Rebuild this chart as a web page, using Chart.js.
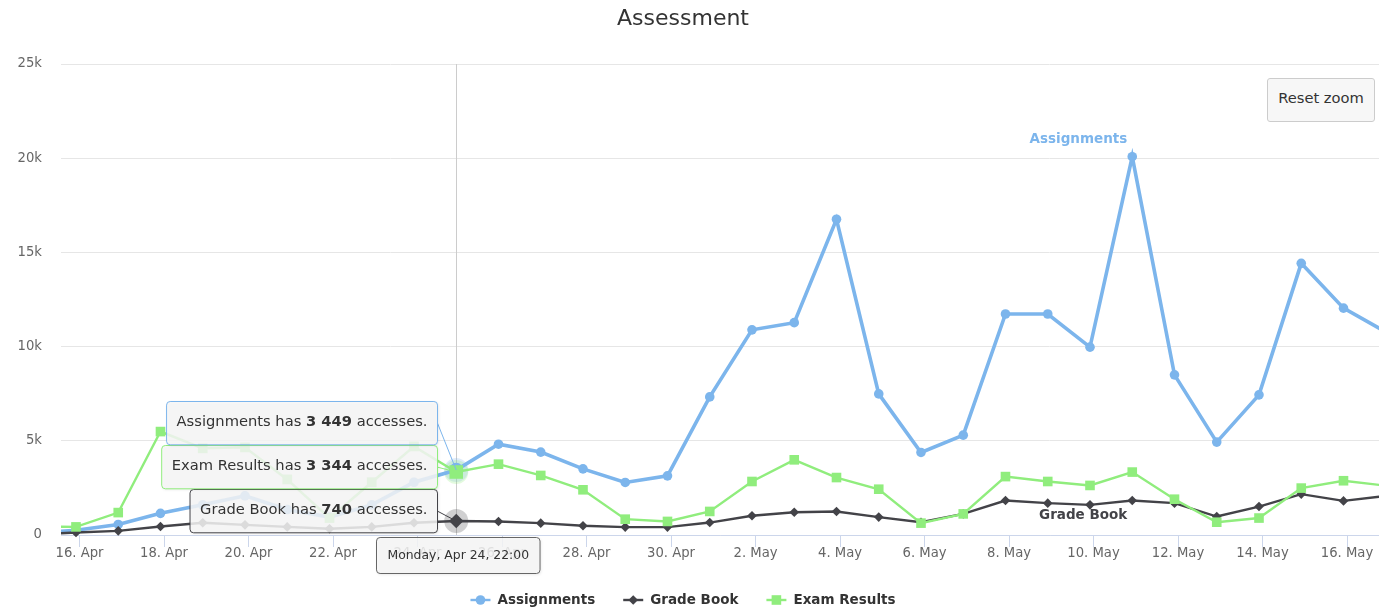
<!DOCTYPE html>
<html>
<head>
<meta charset="utf-8">
<title>Assessment</title>
<script src="https://cdn.jsdelivr.net/npm/chart.js@4.4.1/dist/chart.umd.min.js"></script>
<style>
  html, body { margin: 0; padding: 0; background: #fff; }
  #wrap { position: relative; width: 1379px; height: 611px; overflow: hidden; }
  #reset {
    position: absolute; left: 1267px; top: 78px; width: 108px; height: 44px;
    box-sizing: border-box; border: 1px solid #cccccc; border-radius: 3px;
    background: #f7f7f7; color: #333333; padding-bottom: 6px;
    font: 14.7px "DejaVu Sans", sans-serif;
    display: flex; align-items: center; justify-content: center;
  }
</style>
</head>
<body>
<div id="wrap">
  <canvas id="chart" width="1379" height="611"></canvas>
  <div id="reset">Reset zoom</div>
</div>
<script>
// one point per day, recorded at 22:00
const days = ['Apr 14', 'Apr 15', 'Apr 16', 'Apr 17', 'Apr 18', 'Apr 19', 'Apr 20', 'Apr 21', 'Apr 22', 'Apr 23',
  'Apr 24', 'Apr 25', 'Apr 26', 'Apr 27', 'Apr 28', 'Apr 29', 'Apr 30', 'May 1', 'May 2', 'May 3', 'May 4',
  'May 5', 'May 6', 'May 7', 'May 8', 'May 9', 'May 10', 'May 11', 'May 12', 'May 13', 'May 14', 'May 15', 'May 16']
const assignments = [100, 250, 560, 1150, 1600, 2080, 1350, 950, 1600, 2800, 3449, 4820, 4400, 3510, 2790, 3140,
  7330, 10890, 11270, 16760, 7490, 4380, 5300, 11730, 11730, 9970, 20080, 8500, 4930, 7440, 14420, 12040, 10780]
const gradeBook = [30, 130, 220, 450, 650, 540, 430, 330, 430, 650, 740, 720, 630, 490, 420, 420,
  660, 1020, 1210, 1250, 950, 680, 1120, 1830, 1690, 1600, 1830, 1690, 980, 1510, 2170, 1810, 2070]
const examResults = [450, 430, 1190, 5490, 4600, 4650, 2950, 900, 2800, 4700, 3344, 3760, 3160, 2400, 840, 720,
  1250, 2840, 3990, 3050, 2430, 630, 1120, 3100, 2840, 2630, 3340, 1900, 680, 900, 2490, 2880, 2620]
const tickLabels = ['16. Apr', '18. Apr', '20. Apr', '22. Apr', '24. Apr', '26. Apr', '28. Apr', '30. Apr',
  '2. May', '4. May', '6. May', '8. May', '10. May', '12. May', '14. May', '16. May']
const yTicks = ['0', '5k', '10k', '15k', '20k', '25k']

const hoverDay = 'Apr 24'
const hoverHeader = 'Monday, Apr 24, 22:00'

const FONT = '"DejaVu Sans", sans-serif'
const colors = { blue: '#7cb5ec', dark: '#434348', green: '#90ed7d' }

const hoverIndex = days.indexOf(hoverDay)
const firstTick = days.indexOf('Apr 16')
const toPoints = values => values.map((v, i) => ({ x: i + 22 / 24, y: v }))

function rgba(hex, a) {
  const n = parseInt(hex.slice(1), 16)
  return `rgba(${n >> 16}, ${(n >> 8) & 255}, ${n & 255}, ${a})`
}

function fmt(v) {
  return String(v).replace(/\B(?=(\d{3})+(?!\d))/g, ' ')
}

function roundBox(ctx, x, y, w, h, r) {
  ctx.beginPath()
  ctx.moveTo(x + r, y)
  ctx.lineTo(x + w - r, y)
  ctx.quadraticCurveTo(x + w, y, x + w, y + r)
  ctx.lineTo(x + w, y + h - r)
  ctx.quadraticCurveTo(x + w, y + h, x + w - r, y + h)
  ctx.lineTo(x + r, y + h)
  ctx.quadraticCurveTo(x, y + h, x, y + h - r)
  ctx.lineTo(x, y + r)
  ctx.quadraticCurveTo(x, y, x + r, y)
  ctx.closePath()
}

function drawMarker(ctx, style, x, y, r, color) {
  ctx.fillStyle = color
  ctx.beginPath()
  if (style === 'circle') {
    ctx.arc(x, y, r, 0, Math.PI * 2)
  } else if (style === 'rectRot') {
    ctx.moveTo(x - r, y); ctx.lineTo(x, y - r); ctx.lineTo(x + r, y); ctx.lineTo(x, y + r); ctx.closePath()
  } else {
    ctx.rect(x - r, y - r, 2 * r, 2 * r)
  }
  ctx.fill()
}

const overlay = {
  id: 'overlay',
  beforeDatasetsDraw(chart) {
    const { ctx, chartArea } = chart
    const px = Math.round(chart.getDatasetMeta(0).data[hoverIndex].x) + 0.5
    ctx.save()
    // crosshair
    ctx.strokeStyle = '#cccccc'
    ctx.lineWidth = 1
    ctx.beginPath()
    ctx.moveTo(px, chartArea.top)
    ctx.lineTo(px, chartArea.bottom)
    ctx.stroke()
    // halos around hovered points
    chart.data.datasets.forEach((ds, i) => {
      const p = chart.getDatasetMeta(i).data[hoverIndex]
      ctx.fillStyle = rgba(ds.borderColor, 0.25)
      ctx.beginPath()
      ctx.arc(p.x, p.y, 12, 0, Math.PI * 2)
      ctx.fill()
    })
    ctx.restore()
  },
  afterDraw(chart) {
    const { ctx, chartArea } = chart
    const sets = chart.data.datasets
    ctx.save()

    // title
    ctx.fillStyle = '#333333'
    ctx.font = `22px ${FONT}`
    ctx.textAlign = 'center'
    ctx.textBaseline = 'middle'
    ctx.fillText('Assessment', 683, 19)

    // series labels next to the highest Assignments point
    const top = assignments.indexOf(Math.max(...assignments))
    const pa = chart.getDatasetMeta(0).data[top]
    const pg = chart.getDatasetMeta(1).data[top]
    ctx.font = `bold 13.5px ${FONT}`
    ctx.textAlign = 'right'
    ctx.fillStyle = colors.blue
    ctx.fillText(sets[0].label, pa.x - 5, pa.y - 17)
    ctx.fillStyle = colors.dark
    ctx.fillText(sets[1].label, pg.x - 5, pg.y + 15)

    // split tooltip
    const order = sets.map((ds, i) => i).sort((a, b) => sets[b].data[hoverIndex].y - sets[a].data[hoverIndex].y)
    const boxH = 43.3, gap = 1.7, pad = 10
    const normal = `14.7px ${FONT}`, bold = `bold 14.7px ${FONT}`
    let bottom = chartArea.bottom - 3
    ctx.textAlign = 'left'
    order.slice().reverse().forEach(i => {
      const ds = sets[i]
      const p = chart.getDatasetMeta(i).data[hoverIndex]
      const parts = [[ds.label + ' has ', normal], [fmt(ds.data[hoverIndex].y), bold], [' accesses.', normal]]
      let tw = 0
      parts.forEach(([t, f]) => { ctx.font = f; tw += ctx.measureText(t).width })
      const w = tw + pad * 2
      const right = Math.round(p.x - 19) + 0.5
      const left = right - w
      const y0 = Math.round(bottom - boxH) + 0.5
      const mid = y0 + boxH / 2
      // connector
      ctx.strokeStyle = ds.borderColor
      ctx.lineWidth = 1
      ctx.beginPath()
      ctx.moveTo(right, mid)
      ctx.lineTo(p.x, p.y)
      ctx.stroke()
      // box
      ctx.shadowColor = 'rgba(0,0,0,0.12)'
      ctx.shadowBlur = 3
      ctx.shadowOffsetX = 1
      ctx.shadowOffsetY = 1
      roundBox(ctx, left, y0, w, boxH, 3.6)
      ctx.fillStyle = 'rgba(247,247,247,0.85)'
      ctx.fill()
      ctx.shadowColor = 'transparent'
      ctx.stroke()
      let tx = left + pad
      ctx.fillStyle = '#333333'
      parts.forEach(([t, f]) => {
        ctx.font = f
        ctx.fillText(t, tx, mid - 0.5)
        tx += ctx.measureText(t).width
      })
      bottom = y0 - gap
    })

    // header box under the axis
    const hx = chart.getDatasetMeta(0).data[hoverIndex].x
    ctx.font = `12.4px ${FONT}`
    const hw = ctx.measureText(hoverHeader).width + 22
    const hl = Math.round(hx + 2 - hw / 2) + 0.5
    const ht = Math.round(chartArea.bottom + 2) + 0.5
    const hh = 36
    ctx.shadowColor = 'rgba(0,0,0,0.12)'
    ctx.shadowBlur = 3
    ctx.shadowOffsetX = 1
    ctx.shadowOffsetY = 1
    roundBox(ctx, hl, ht, hw, hh, 3.6)
    ctx.fillStyle = 'rgba(247,247,247,0.85)'
    ctx.fill()
    ctx.shadowColor = 'transparent'
    ctx.strokeStyle = '#666666'
    ctx.stroke()
    ctx.fillStyle = '#333333'
    ctx.textAlign = 'center'
    ctx.fillText(hoverHeader, hl + hw / 2, ht + hh / 2)

    // legend
    ctx.font = `bold 13.5px ${FONT}`
    const items = sets.map(ds => ({ ds, tw: ctx.measureText(ds.label).width }))
    const total = items.reduce((s, it) => s + 20 + 7 + it.tw, 0) + 28 * (items.length - 1)
    let lx = 683 - total / 2
    const ly = 600
    ctx.textAlign = 'left'
    items.forEach(({ ds, tw }) => {
      ctx.strokeStyle = ds.borderColor
      ctx.lineWidth = 2.4
      ctx.beginPath()
      ctx.moveTo(lx, ly)
      ctx.lineTo(lx + 20, ly)
      ctx.stroke()
      drawMarker(ctx, ds.pointStyle, lx + 10, ly, 4.8, ds.borderColor)
      ctx.fillStyle = '#333333'
      ctx.fillText(ds.label, lx + 27, ly)
      lx += 27 + tw + 28
    })
    ctx.restore()
  }
}

const hoverSize = (base, big) => c => c.dataIndex === hoverIndex ? big : base

new Chart(document.getElementById('chart'), {
  type: 'line',
  data: {
    datasets: [{
      label: 'Assignments',
      data: toPoints(assignments),
      borderColor: colors.blue,
      backgroundColor: colors.blue,
      borderWidth: 3.6,
      pointStyle: 'circle',
      pointRadius: hoverSize(4.8, 7.2),
      pointBorderWidth: 0,
      order: 2
    }, {
      label: 'Grade Book',
      data: toPoints(gradeBook),
      borderColor: colors.dark,
      backgroundColor: colors.dark,
      borderWidth: 2.4,
      pointStyle: 'rectRot',
      pointRadius: hoverSize(4.8, 7.2),
      pointBorderWidth: 0,
      order: 1
    }, {
      label: 'Exam Results',
      data: toPoints(examResults),
      borderColor: colors.green,
      backgroundColor: colors.green,
      borderWidth: 2.4,
      pointStyle: 'rect',
      pointRadius: hoverSize(6.8, 9.6),
      pointBorderWidth: 0,
      order: 0
    }]
  },
  options: {
    responsive: false,
    animation: false,
    events: [],
    clip: { left: 0, right: 0, top: 12, bottom: 12 },
    layout: { autoPadding: false, padding: { top: 64, left: 17, right: 0, bottom: 51 } },
    elements: { line: { tension: 0 } },
    plugins: {
      legend: { display: false },
      tooltip: { enabled: false },
      title: { display: false }
    },
    scales: {
      x: {
        type: 'linear',
        min: 1.562,
        max: 32.757,
        afterBuildTicks: scale => {
          scale.ticks = tickLabels.map((_, j) => ({ value: firstTick + 2 * j }))
        },
        afterFit: scale => {
          scale.height = 25
          scale.paddingLeft = 0
          scale.paddingRight = 0
        },
        ticks: {
          autoSkip: false,
          maxRotation: 0,
          padding: -1,
          color: '#666666',
          font: { family: FONT, size: 13.2 },
          callback: (v, i) => tickLabels[i]
        },
        grid: { drawOnChartArea: false, tickLength: 12, color: '#ccd6eb' },
        border: { color: '#ccd6eb', width: 1 }
      },
      y: {
        min: 0,
        max: 25000,
        afterBuildTicks: scale => {
          scale.ticks = yTicks.map((_, j) => ({ value: j * 5000 }))
        },
        afterFit: scale => {
          scale.width = 44
          scale.paddingTop = 0
          scale.paddingBottom = 0
        },
        ticks: {
          padding: 19,
          color: '#666666',
          font: { family: FONT, size: 13.2 },
          callback: (v, i) => yTicks[i]
        },
        grid: { drawTicks: false, color: '#e6e6e6' },
        border: { display: false }
      }
    }
  },
  plugins: [overlay]
})
</script>
</body>
</html>
